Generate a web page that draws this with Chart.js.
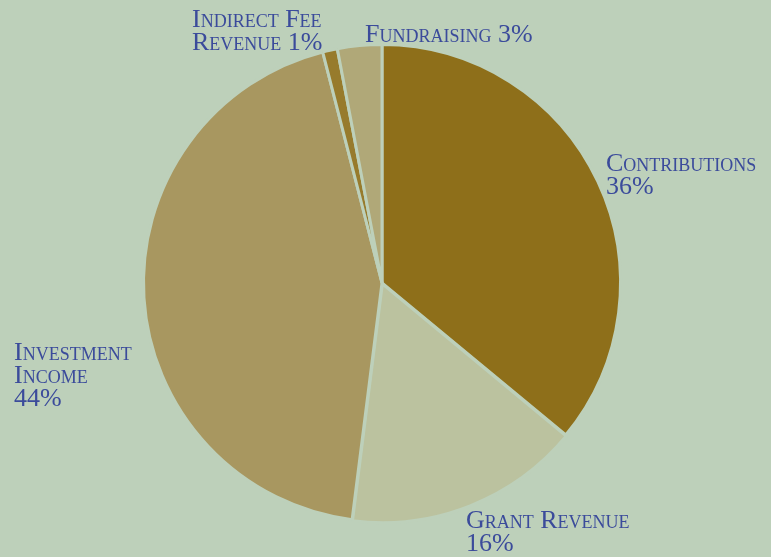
<!DOCTYPE html>
<html>
<head>
<meta charset="utf-8">
<script src="https://cdn.jsdelivr.net/npm/chart.js@4.4.0/dist/chart.umd.min.js"></script>
<style>
  html, body { margin: 0; padding: 0; background: #bdd0ba; }
  #wrap { position: relative; width: 771px; height: 557px; overflow: hidden; }
  canvas { position: absolute; left: 0; top: 0; }
  .lbl {
    position: absolute;
    font-family: "Liberation Serif", "DejaVu Serif", serif;
    font-variant: small-caps;
    font-size: 26px;
    line-height: 23px;
    color: #3b4b9b;
    white-space: nowrap;
  }
</style>
</head>
<body>
<div id="wrap">
  <canvas id="pie" width="771" height="557"></canvas>
</div>
<script>
// data, clockwise from 12 o'clock
var categories = ['Contributions', 'Grant Revenue', 'Investment Income', 'Indirect Fee Revenue', 'Fundraising'];
var percents = [36, 16, 44, 1, 3];
var colors = ['#8e6f1a', '#bbc29f', '#a89760', '#977b2c', '#b0a878'];

// label text lines and where they sit on the page
var labelLines = [
  ['Contributions', '36%'],
  ['Grant Revenue', '16%'],
  ['Investment', 'Income', '44%'],
  ['Indirect Fee', 'Revenue 1%'],
  ['Fundraising 3%']
];
var labelPos = [[606, 151], [466, 508], [14, 340], [192, 7], [365, 22]];

var bg = '#bdd0ba';

var ctx = document.getElementById('pie').getContext('2d');
var chart = new Chart(ctx, {
  type: 'pie',
  data: {
    labels: categories,
    datasets: [{
      data: percents,
      backgroundColor: colors,
      borderColor: bg,
      borderWidth: 3,
      offset: [0, 4, 0, 0, 0]
    }]
  },
  options: {
    responsive: false,
    animation: false,
    layout: { padding: { left: 140, right: 147, top: 41, bottom: 32 } },
    plugins: {
      legend: { display: false },
      tooltip: { enabled: false }
    }
  }
});

var wrap = document.getElementById('wrap');
labelLines.forEach(function(lines, i) {
  var d = document.createElement('div');
  d.className = 'lbl';
  d.style.left = labelPos[i][0] + 'px';
  d.style.top = labelPos[i][1] + 'px';
  d.innerHTML = lines.join('<br>');
  wrap.appendChild(d);
});
</script>
</body>
</html>
